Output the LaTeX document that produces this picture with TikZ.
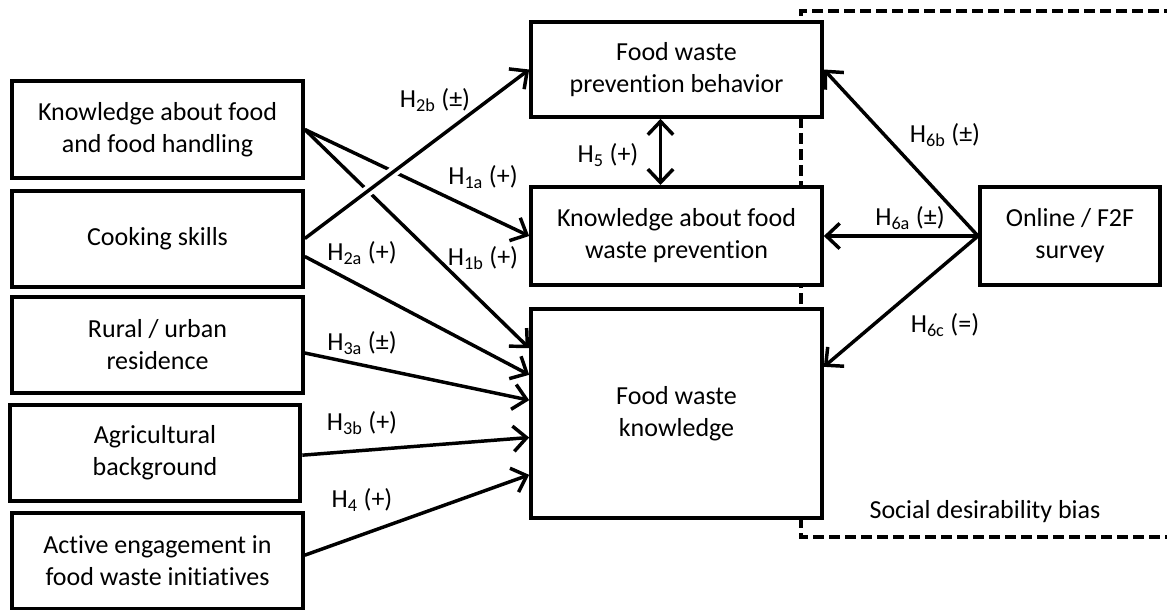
\documentclass[tikz,border=0pt]{standalone}
\usepackage{fontspec}
\setmainfont{Carlito}[Ligatures=NoCommon]
\usetikzlibrary{arrows.meta,positioning}

\begin{document}
\begin{tikzpicture}[x=0.75pt,y=-0.75pt,
  every node/.style={font=\fontsize{19.5}{24}\selectfont},
  box/.style={draw, line width=3pt, fill=white, align=center,
              minimum width=218pt, minimum height=72pt, inner sep=2pt},
  hyp/.style={line width=2.6pt, -{Straight Barb[length=10pt,width=19pt]}},
  halo/.style={white, line width=8pt, shorten <=25pt, shorten >=25pt},
  lab/.style={inner sep=0pt}]
\useasboundingbox (0,0) rectangle (1167,610);
% social desirability frame
\draw[line width=2.6pt, dash pattern=on 8pt off 4pt]
  (1175,11) -- (801,11) -- (801,537) -- (1175,537);
\node[lab] (bias) at (985,512) {Social desirability bias};

% left column
\node[box] (know) at (157.5,129.5) {Knowledge about food\\and food handling};
\node[box] (cook) at (157.5,238.5) {Cooking skills};
\node[box] (rural) at (157.5,345) {Rural / urban\\residence};
\node[box] (agri) at (155,452.5) {Agricultural\\background};
\node[box] (active) at (157.5,560.5) {Active engagement in\\food waste initiatives};

% middle column
\node[box, minimum height=71pt] (behav) at (676.5,69.5) {Food waste\\prevention behavior};
\node[box, minimum height=73.5pt] (prev) at (676.5,236) {Knowledge about food\\waste prevention};
\node[box, minimum height=156.75pt] (fwk) at (676.5,413.5) {Food waste\\knowledge};
\node[box, minimum width=135pt, minimum height=73.5pt] (survey) at (1070,236) {Online / F2F\\survey};

% hypotheses
\draw[hyp] (know.east) -- (prev.west);
\draw[hyp] (know.east) -- ([yshift=49pt]fwk.west);
\draw[halo] (cook.east) -- (behav.west);
\draw[hyp] (cook.east) -- (behav.west);
\draw[hyp] ([yshift=-13.5pt]cook.east) -- ([yshift=29pt]fwk.west);
\draw[hyp] ([yshift=-6pt]rural.east) -- ([yshift=10pt]fwk.west);
\draw[hyp] ([yshift=-2pt]agri.east) -- ([yshift=-18pt]fwk.west);
\draw[hyp] ([yshift=4pt]active.east) -- ([yshift=-46pt]fwk.west);
\draw[hyp, {Straight Barb[length=10pt,width=19pt]}-{Straight Barb[length=10pt,width=19pt]}]
  ([xshift=-12pt]behav.south) -- ([xshift=-12pt]prev.north);
\draw[hyp] (survey.west) -- (behav.east);
\draw[hyp] (survey.west) -- (prev.east);
\draw[hyp] (survey.west) -- ([yshift=35pt]fwk.east);

\node[lab] (l2b) at (435,100) {H\textsubscript{2b} (±)};
\node[lab] (l1a) at (483,177) {H\textsubscript{1a} (+)};
\node[lab] (l2a) at (362,253) {H\textsubscript{2a} (+)};
\node[lab] (l1b) at (483,258) {H\textsubscript{1b} (+)};
\node[lab] (l3a) at (362,343) {H\textsubscript{3a} (±)};
\node[lab] (l3b) at (362,423) {H\textsubscript{3b} (+)};
\node[lab] (l4) at (362,500) {H\textsubscript{4} (+)};
\node[lab] (l5) at (608,155) {H\textsubscript{5} (+)};
\node[lab] (l6a) at (910,218) {H\textsubscript{6a} (±)};
\node[lab] (l6b) at (945,135) {H\textsubscript{6b} (±)};
\node[lab] (l6c) at (945,325) {H\textsubscript{6c} (=)};
\end{tikzpicture}
\end{document}
